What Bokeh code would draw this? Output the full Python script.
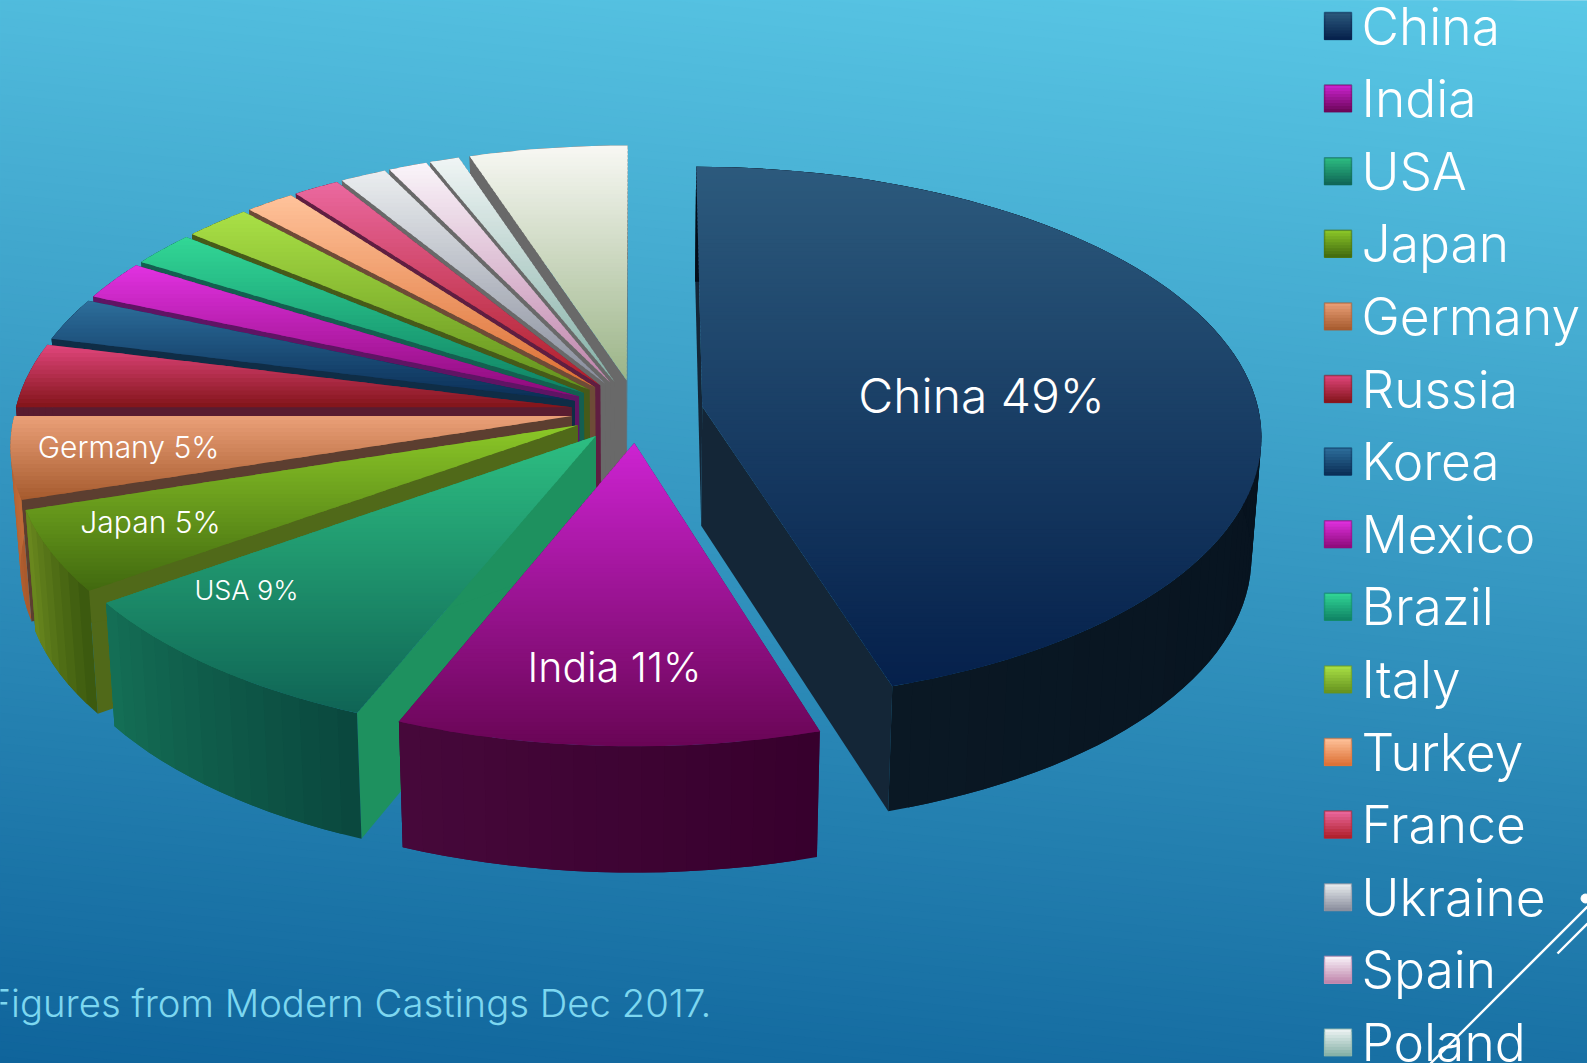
import math
from bokeh.plotting import figure
from bokeh.embed import file_html
from bokeh.resources import INLINE
from bokeh.core.properties import value

# ---- data -----------------------------------------------------------------
categories = ["China", "India", "USA", "Japan", "Germany", "Russia", "Korea", "Mexico",
              "Brazil", "Italy", "Turkey", "France", "Ukraine", "Spain", "Poland", "Others"]
# drawn share of the full circle, in percent, as measured on the slices
drawn_share = [45.2, 10.95, 9.0, 4.9, 4.95, 3.9, 2.6, 2.35, 2.1, 2.15, 1.6, 1.5, 1.5, 1.25, 0.95, 5.1]
slice_labels = ["China 49%", "India 11%", "USA 9%", "Japan 5%", "Germany 5%"]
legend_names = categories[:15]
footer = "Figures from Modern Castings Dec 2017."

# ---- styles ----------------------------------------------------------------
top_a = [(44,90,125),(205,35,210),(45,190,130),(140,200,40),(235,160,120),(225,70,125),(45,110,155),(225,50,225),
         (50,215,150),(170,225,70),(255,195,155),(235,105,160),(235,238,240),(250,245,250),(240,245,245),(248,248,244)]
top_b = [(5,32,75),(105,5,85),(15,100,85),(65,105,15),(165,90,45),(130,20,25),(10,45,85),(140,10,120),
         (15,130,100),(100,145,30),(220,110,50),(175,30,40),(135,140,155),(190,130,170),(130,175,165),(155,180,135)]
cut_col = [(20,38,55),(70,10,70),(30,145,95),(80,105,25),(92,62,48),(90,28,48),(15,45,70),(95,20,100),
           (20,95,80),(70,90,25),(110,75,55),(95,30,65),(105,105,105),(105,105,105),(105,105,105),(105,105,105)]
rim_a = [(3,12,24),(70,8,58),(20,110,85),(105,135,30),(190,105,55),(90,28,48),(15,45,70),(95,20,100),
         (20,95,80),(70,90,25),(110,75,55),(95,30,65),(105,105,105),(105,105,105),(105,105,105),(105,105,105)]
rim_b = [(10,24,36),(55,0,45),(10,72,62),(60,90,15),(170,90,45),(90,28,48),(15,45,70),(95,20,100),
         (20,95,80),(70,90,25),(110,75,55),(95,30,65),(105,105,105),(105,105,105),(105,105,105),(105,105,105)]

CX, CY, R, EXPL = 636.6, 410.6, 556.5, 66.0
B, KAPPA, DEPTH, SHRINK = 0.4765, 1.852e-4, 119.5, 0.984
W, H = 1587, 1063
FONT = "Inter Light"


def hexc(c):
    return "#%02x%02x%02x" % tuple(int(round(max(0, min(255, v)))) for v in c)


def mix(a, b, t):
    return tuple(a[i] + (b[i] - a[i]) * t for i in range(3))


def proj(X, Y):
    s = 1.0 / (1.0 - KAPPA * Y)
    return CX + X * s, CY + B * Y * s


def low(p):
    x, y = p
    return CX + (x - CX) * SHRINK, y + DEPTH + 0.02 * (y - CY)


def clip_half(poly, keep):
    out = []
    n = len(poly)
    for i in range(n):
        a, b = poly[i], poly[(i + 1) % n]
        da, db = keep(a), keep(b)
        if da >= 0:
            out.append(a)
        if da * db < 0:
            t = da / (da - db)
            out.append((a[0] + (b[0] - a[0]) * t, a[1] + (b[1] - a[1]) * t))
    return out


px, py, pc = [], [], []


def add(poly, col):
    if len(poly) >= 3:
        px.append([q[0] for q in poly])
        py.append([q[1] for q in poly])
        pc.append(hexc(col))


total = sum(drawn_share)
edges = [0.0]
for v in drawn_share:
    edges.append(edges[-1] + 360.0 * v / total)

# painter's order: from the back slice round to China
for i in range(len(categories) - 1, -1, -1):
    t0, t1 = edges[i], edges[i + 1]
    mid = math.radians((t0 + t1) / 2)
    ox, oy = EXPL * math.sin(mid), -EXPL * math.cos(mid)
    apex = proj(ox, oy)
    n = max(6, int((t1 - t0) / 2.0))
    th = [math.radians(t0 + (t1 - t0) * k / n) for k in range(n + 1)]
    rim = [proj(ox + R * math.sin(a), oy - R * math.cos(a)) for a in th]
    add([apex, rim[0], low(rim[0]), low(apex)], cut_col[i])
    add([apex, rim[-1], low(rim[-1]), low(apex)], cut_col[i])
    # rim wall: each facet overlaps the next, so no seams show
    order = range(n) if 0 < i < 5 else range(n - 1, -1, -1)
    for k in order:
        frac = k / max(1, n - 1)
        if 0 < i < 5:
            j0, j1 = k, min(n, k + 2)
        else:
            j0, j1 = max(0, k - 1), k + 1
        wall = [rim[j] for j in range(j0, j1 + 1)] + [low(rim[j]) for j in range(j1, j0 - 1, -1)]
        add(wall, mix(rim_a[i], rim_b[i], 1 - frac if 0 < i < 5 else frac))
    poly = [apex] + rim
    ymin, ymax = min(q[1] for q in poly), max(q[1] for q in poly)
    nb = max(10, int((ymax - ymin) / 4))
    for b in range(nb):
        y0 = ymin + (ymax - ymin) * b / nb
        y1 = ymin + (ymax - ymin) * (b + 1) / nb + 1.5
        band = clip_half(poly, lambda q: q[1] - y0)
        band = clip_half(band, lambda q: y1 - q[1])
        add(band, mix(top_a[i], top_b[i], (b + 0.5) / nb))

p = figure(width=W, height=H, x_range=(0, W), y_range=(H, 0),
           output_backend="svg", toolbar_location=None, min_border=0)
p.axis.visible = False
p.grid.visible = False
p.outline_line_color = None
p.background_fill_color = "#5ac8e6"
p.border_fill_color = "#5ac8e6"

# background: tilted linear gradient; each band runs to the foot of the page and the next paints over it
BG_A, BG_B, TILT = (90, 200, 230), (15, 100, 155), 0.1
steps = 160
tlo, thi = -TILT * W, H
starts = [tlo + (thi - tlo) * k / steps for k in range(steps)]
bx = [[-5, W + 5, W + 5, -5] for _ in starts]
by = [[a, a + TILT * W, H + 200, H + 200] for a in starts]
by[0] = [-300, -300, H + 200, H + 200]
bc = [hexc(mix(BG_A, BG_B, (k + 0.5) / steps)) for k in range(steps)]
p.patches(bx, by, fill_color=bc, line_color=None)

p.patches(px, py, fill_color=pc, line_color=None)

# decoration lines
p.line([1587, 1430], [906, 1063], line_color="white", line_width=2.4)
p.line([1587, 1557], [923, 953], line_color="white", line_width=2.4)
p.scatter([1585], [898], size=9, color="white")

# legend
LEG_X, LEG_Y, LEG_S, LEG_STEP = 1324, 12, 27, 72.6
for i, name in enumerate(legend_names):
    y0 = LEG_Y + i * LEG_STEP
    nb = 9
    for b in range(nb):
        p.quad(left=LEG_X, right=LEG_X + LEG_S, top=y0 + LEG_S * b / nb, bottom=y0 + LEG_S,
               fill_color=hexc(mix(top_a[i], top_b[i], (b + 0.5) / nb)), line_color=None)
    p.quad(left=LEG_X, right=LEG_X + LEG_S, top=y0, bottom=y0 + LEG_S, fill_color=None,
           line_color=hexc(mix(top_a[i], top_b[i], 1.0)), line_alpha=0.55, line_width=1.5)
p.text([1361] * len(legend_names), [25 + i * LEG_STEP for i in range(len(legend_names))], text=legend_names,
       text_font=value(FONT), text_font_size="51.5px", text_color="white",
       text_align="left", text_baseline="alphabetic")

# slice labels
lab_x = [981, 614, 246, 150, 128]
lab_y = [395, 666, 590, 521, 446]
lab_s = ["48px", "41px", "27px", "30px", "30px"]
for t, x, y, s in zip(slice_labels, lab_x, lab_y, lab_s):
    p.text([x], [y], text=[t], text_font=value(FONT), text_font_size=s, text_color="white",
           text_align="center", text_baseline="alphabetic")

p.text([-12], [1002], text=[footer], text_font=value(FONT), text_font_size="38.3px", text_color="#7dd7f0",
       text_align="left", text_baseline="alphabetic")

open("out.html", "w").write(file_html(p, INLINE))
